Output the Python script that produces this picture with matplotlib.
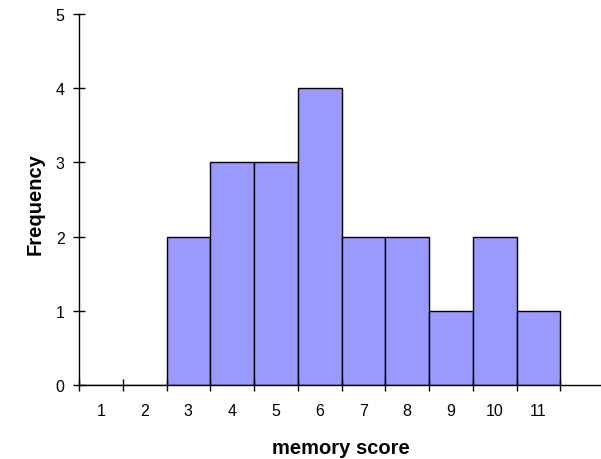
import matplotlib
matplotlib.use("Agg")
import matplotlib.pyplot as plt
import numpy as np

scores = [1, 2, 3, 4, 5, 6, 7, 8, 9, 10, 11]
freq = [0, 0, 2, 3, 3, 4, 2, 2, 1, 2, 1]
yticks = [0, 1, 2, 3, 4, 5]

plt.rcParams['font.family'] = ['Liberation Sans', 'DejaVu Sans']
fig = plt.figure(figsize=(6.01, 4.60), dpi=100)
ax = fig.add_axes([79/601, (460-386)/460, 525/601, 371/460])

ax.bar(scores, freq, width=1.0, color='#9999FF', edgecolor='black', linewidth=1.0)
ax.set_xlim(0.5, 12.5)
ax.set_ylim(0, 5)
for s in ['top', 'right']:
    ax.spines[s].set_visible(False)
for s in ['left', 'bottom']:
    ax.spines[s].set_linewidth(1.0)

ax.set_xticks(np.arange(0.5, 12.0, 1.0))
ax.set_xticklabels([])
ax.set_xticks(scores, minor=True)
ax.set_xticklabels([str(s) for s in scores], minor=True, fontsize=11.5)
ax.tick_params(axis='x', which='minor', length=0, pad=13)
ax.tick_params(axis='x', which='major', direction='inout', length=8.6, width=1)
ax.set_yticks(yticks)
ax.set_yticklabels([str(v) for v in yticks], fontsize=11.5)
ax.tick_params(axis='y', direction='inout', length=8.6, width=1, pad=6)

fig.text(35/601, 1 - 204/460, 'Frequency', rotation=90, ha='center', va='center',
         fontsize=14.5, fontweight='bold')
fig.text(341/601, 1 - 449/460, 'memory score', ha='center', va='center',
         fontsize=14.5, fontweight='bold')

fig.savefig('out.png', dpi=100)
